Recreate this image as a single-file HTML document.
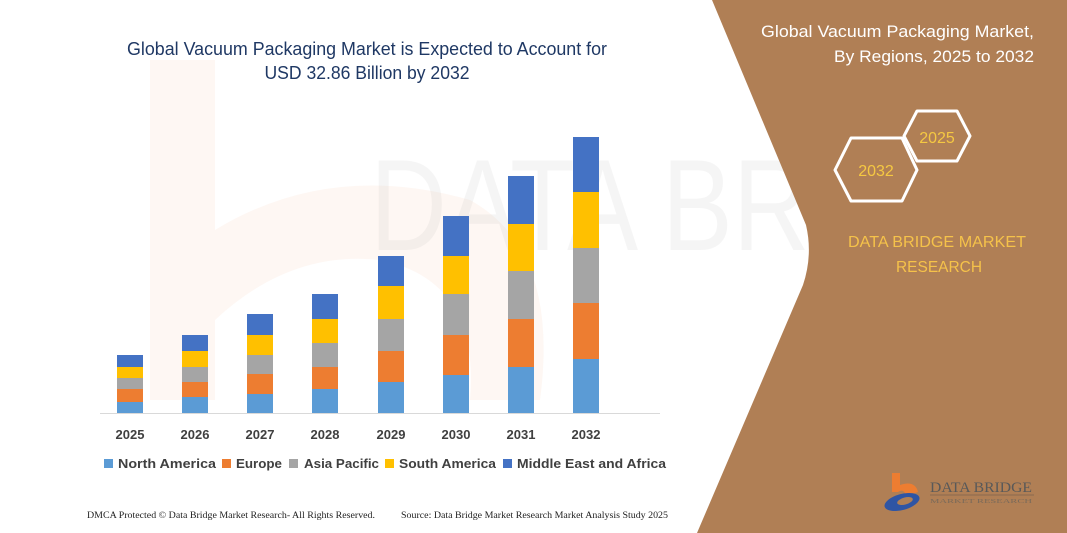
<!DOCTYPE html>
<html><head><meta charset="utf-8"><style>
html,body{margin:0;padding:0;background:#fff;}
svg{display:block;}
</style></head><body>
<svg width="1067" height="533" viewBox="0 0 1067 533" xmlns="http://www.w3.org/2000/svg">
<rect width="1067" height="533" fill="#fff"/>
<!-- faint watermark -->
<g opacity="0.06" fill="#e8743b">
<path d="M150 60 L215 60 L215 230 Q330 160 470 200 Q560 250 540 400 L470 400 Q480 280 380 260 Q290 250 215 320 L215 400 L150 400 Z"/>
</g>
<g opacity="0.05" font-family="Liberation Sans, sans-serif" font-size="130" fill="#555"><text x="370" y="250" textLength="700" lengthAdjust="spacingAndGlyphs">DATA BRIDGE</text></g>
<!-- brown panel -->
<path d="M712 0 L1067 0 L1067 533 L697 533 L803 285 Q813 255 806 225 Z" fill="#b07f55"/>
<!-- title -->
<g font-family="Liberation Sans, sans-serif" fill="#1f3864" font-size="18" text-anchor="middle">
<text x="367" y="55" textLength="480" lengthAdjust="spacingAndGlyphs">Global Vacuum Packaging Market is Expected to Account for</text>
<text x="367" y="79" textLength="205" lengthAdjust="spacingAndGlyphs">USD 32.86 Billion by 2032</text>
</g>
<!-- baseline -->
<line x1="100" y1="413.5" x2="660" y2="413.5" stroke="#d9d9d9" stroke-width="1"/>
<!-- bars -->
<g id="bars"></g>
<g>
<!-- 2025 -->
<rect x="117" y="402" width="26" height="11" fill="#5b9bd5"/><rect x="117" y="389" width="26" height="13" fill="#ed7d31"/><rect x="117" y="378" width="26" height="11" fill="#a5a5a5"/><rect x="117" y="367" width="26" height="11" fill="#ffc000"/><rect x="117" y="355" width="26" height="12" fill="#4472c4"/>
<!-- 2026 -->
<rect x="182" y="397" width="26" height="16" fill="#5b9bd5"/><rect x="182" y="382" width="26" height="15" fill="#ed7d31"/><rect x="182" y="367" width="26" height="15" fill="#a5a5a5"/><rect x="182" y="351" width="26" height="16" fill="#ffc000"/><rect x="182" y="335" width="26" height="16" fill="#4472c4"/>
<!-- 2027 -->
<rect x="247" y="394" width="26" height="19" fill="#5b9bd5"/><rect x="247" y="374" width="26" height="20" fill="#ed7d31"/><rect x="247" y="355" width="26" height="19" fill="#a5a5a5"/><rect x="247" y="335" width="26" height="20" fill="#ffc000"/><rect x="247" y="314" width="26" height="21" fill="#4472c4"/>
<!-- 2028 -->
<rect x="312" y="389" width="26" height="24" fill="#5b9bd5"/><rect x="312" y="367" width="26" height="22" fill="#ed7d31"/><rect x="312" y="343" width="26" height="24" fill="#a5a5a5"/><rect x="312" y="319" width="26" height="24" fill="#ffc000"/><rect x="312" y="294" width="26" height="25" fill="#4472c4"/>
<!-- 2029 -->
<rect x="378" y="382" width="26" height="31" fill="#5b9bd5"/><rect x="378" y="351" width="26" height="31" fill="#ed7d31"/><rect x="378" y="319" width="26" height="32" fill="#a5a5a5"/><rect x="378" y="286" width="26" height="33" fill="#ffc000"/><rect x="378" y="256" width="26" height="30" fill="#4472c4"/>
<!-- 2030 -->
<rect x="443" y="375" width="26" height="38" fill="#5b9bd5"/><rect x="443" y="335" width="26" height="40" fill="#ed7d31"/><rect x="443" y="294" width="26" height="41" fill="#a5a5a5"/><rect x="443" y="256" width="26" height="38" fill="#ffc000"/><rect x="443" y="216" width="26" height="40" fill="#4472c4"/>
<!-- 2031 -->
<rect x="508" y="367" width="26" height="46" fill="#5b9bd5"/><rect x="508" y="319" width="26" height="48" fill="#ed7d31"/><rect x="508" y="271" width="26" height="48" fill="#a5a5a5"/><rect x="508" y="224" width="26" height="47" fill="#ffc000"/><rect x="508" y="176" width="26" height="48" fill="#4472c4"/>
<!-- 2032 -->
<rect x="573" y="359" width="26" height="54" fill="#5b9bd5"/><rect x="573" y="303" width="26" height="56" fill="#ed7d31"/><rect x="573" y="248" width="26" height="55" fill="#a5a5a5"/><rect x="573" y="192" width="26" height="56" fill="#ffc000"/><rect x="573" y="137" width="26" height="55" fill="#4472c4"/>
</g>
<!-- x labels -->
<g font-family="Liberation Sans, sans-serif" font-weight="bold" font-size="13" fill="#404040" text-anchor="middle">
<text x="130" y="439">2025</text><text x="195" y="439">2026</text><text x="260" y="439">2027</text><text x="325" y="439">2028</text><text x="391" y="439">2029</text><text x="456" y="439">2030</text><text x="521" y="439">2031</text><text x="586" y="439">2032</text>
</g>
<!-- legend -->
<g font-family="Liberation Sans, sans-serif" font-weight="bold" font-size="13" fill="#404040">
<rect x="104" y="459" width="9" height="9" fill="#5b9bd5"/><text x="118" y="468" textLength="98" lengthAdjust="spacingAndGlyphs">North America</text>
<rect x="222" y="459" width="9" height="9" fill="#ed7d31"/><text x="236" y="468" textLength="46" lengthAdjust="spacingAndGlyphs">Europe</text>
<rect x="289" y="459" width="9" height="9" fill="#a5a5a5"/><text x="304" y="468" textLength="75" lengthAdjust="spacingAndGlyphs">Asia Pacific</text>
<rect x="385" y="459" width="9" height="9" fill="#ffc000"/><text x="399" y="468" textLength="97" lengthAdjust="spacingAndGlyphs">South America</text>
<rect x="503" y="459" width="9" height="9" fill="#4472c4"/><text x="517" y="468" textLength="149" lengthAdjust="spacingAndGlyphs">Middle East and Africa</text>
</g>
<!-- footer -->
<g font-family="Liberation Serif, serif" font-size="9" fill="#222">
<text x="87" y="518" textLength="288" lengthAdjust="spacingAndGlyphs">DMCA Protected © Data Bridge Market Research-  All Rights Reserved.</text>
<text x="401" y="518" textLength="267" lengthAdjust="spacingAndGlyphs">Source: Data Bridge Market Research  Market Analysis Study 2025</text>
</g>
<!-- right panel text -->
<g font-family="Liberation Sans, sans-serif" font-size="17" fill="#fff" text-anchor="end">
<text x="1034" y="37" textLength="273" lengthAdjust="spacingAndGlyphs">Global Vacuum Packaging Market,</text>
<text x="1034" y="62" textLength="200" lengthAdjust="spacingAndGlyphs">By Regions, 2025 to 2032</text>
</g>
<g fill="none" stroke="#fff" stroke-width="3" stroke-linejoin="round">
<polygon points="917,111 957,111 970,136 957,161 917,161 904,136"/>
<polygon points="851,138 902,138 917,170 902,201 851,201 835,170"/>
</g>
<g font-family="Liberation Sans, sans-serif" font-size="16" fill="#f5c842" text-anchor="middle">
<text x="937" y="143">2025</text>
<text x="876" y="176">2032</text>
</g>
<g font-family="Liberation Sans, sans-serif" font-size="16" fill="#f5c24a" text-anchor="middle">
<text x="937" y="247" textLength="178" lengthAdjust="spacingAndGlyphs">DATA BRIDGE MARKET</text>
<text x="939" y="272" textLength="86" lengthAdjust="spacingAndGlyphs">RESEARCH</text>
</g>
<!-- logo -->
<path d="M892 473 L900 473 L900 485 Q915 480 918 492 L906 496 Q904 488 898 492 L892 492 Z" fill="#ed7d31"/>
<ellipse cx="902" cy="502" rx="18" ry="8" fill="#2f55a4" transform="rotate(-15 902 502)"/>
<ellipse cx="905" cy="501" rx="8" ry="3.5" fill="#b07f55" transform="rotate(-15 905 501)"/>
<text x="930" y="492" font-family="Liberation Serif, serif" font-size="15" fill="#595959" textLength="102" lengthAdjust="spacingAndGlyphs">DATA BRIDGE</text>
<line x1="930" y1="495" x2="1034" y2="495" stroke="#8a6a50" stroke-width="1"/>
<text x="930" y="503" font-family="Liberation Serif, serif" font-size="6" fill="#7a6a5a" textLength="102" lengthAdjust="spacingAndGlyphs">MARKET RESEARCH</text>
</svg>
</body></html>
